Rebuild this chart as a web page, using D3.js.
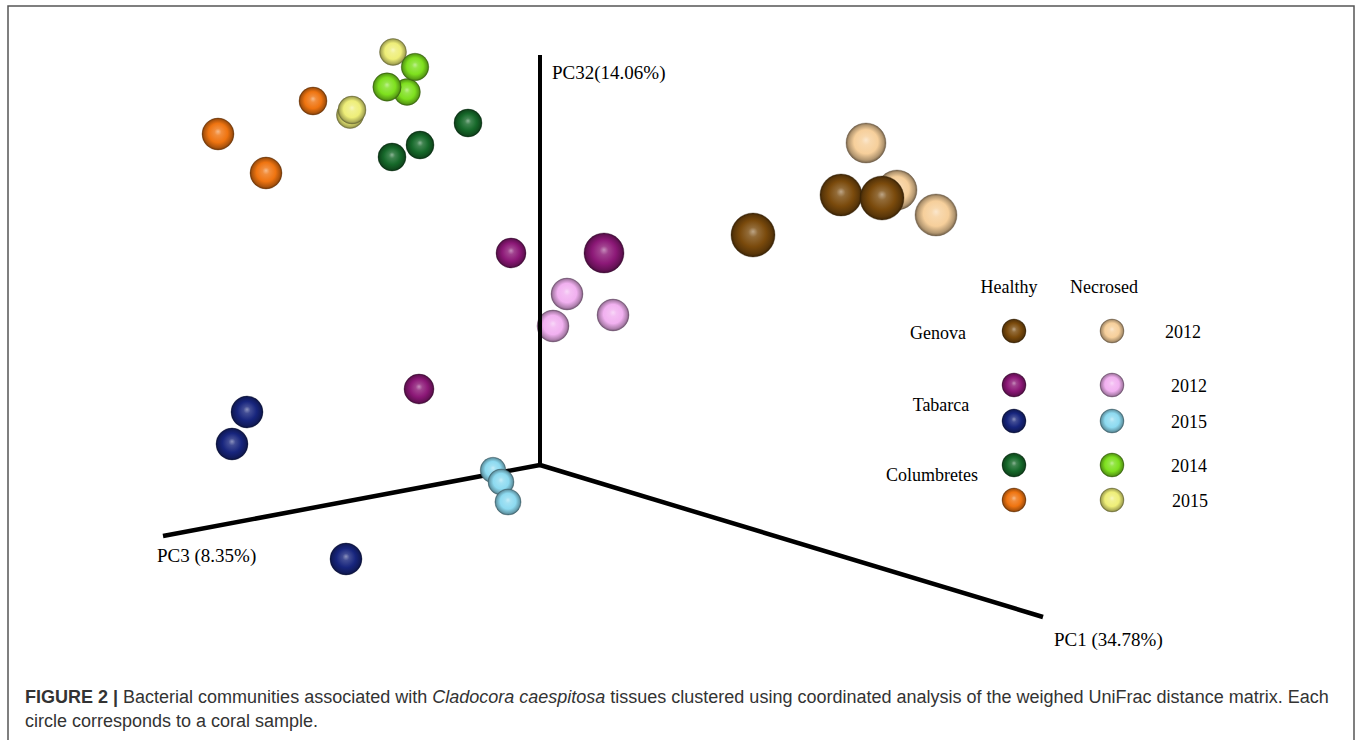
<!DOCTYPE html>
<html>
<head>
<meta charset="utf-8">
<script src="https://cdn.jsdelivr.net/npm/d3@7"></script>
<style>
  html, body { margin: 0; padding: 0; background: #fff; }
  svg { display: block; }
</style>
</head>
<body>
<svg id="chart" width="1360" height="740"></svg>
<script>
// Axis titles (variance explained by each principal coordinate)
const axisTitles = { vertical: "PC32(14.06%)", left: "PC3 (8.35%)", right: "PC1 (34.78%)" };

// Projected axis end points (ordination units, origin = 0,0)
const axisEnds = { vertical: [0, 41.0], left: [-37.7, -7.1], right: [50.3, -15.2] };

// Legend structure
const sites = ["Genova", "Tabarca", "Tabarca", "Columbretes", "Columbretes"];
const years = ["2012", "2012", "2015", "2014", "2015"];
const states = ["Healthy", "Necrosed"];
const healthyColors  = ["#7a4a0c", "#8c1877", "#17257d", "#16692a", "#ef7410"];
const necrosedColors = ["#f6cf9b", "#f1b0f0", "#8ddaf0", "#7ee01e", "#eeee78"];

// Samples per group: [projected x, projected y, depth]
const genovaHealthy2012      = [[30.1, 27.0, 9], [34.2, 26.7, 10], [21.3, 23.0, 10]];
const genovaNecrosed2012     = [[32.6, 32.2, 8], [35.7, 27.5, 8], [39.6, 25.0, 9]];
const tabarcaHealthy2012     = [[-2.9, 21.2, 3], [6.4, 21.2, 8], [-12.1, 7.6, 3]];
const tabarcaNecrosed2012    = [[2.7, 17.1, 4], [7.3, 15.0, 4], [1.3, 13.9, 4]];
const tabarcaHealthy2015     = [[-29.3, 5.3, 4], [-30.8, 2.1, 4], [-19.4, -9.4, 4]];
const tabarcaNecrosed2015    = [[-4.7, -0.5, 0.8], [-3.9, -1.7, 1.0], [-3.2, -3.7, 1.1]];
const columbretesHealthy2014 = [[-7.2, 34.2, 2], [-12.0, 32.0, 2], [-14.8, 30.8, 2]];
const columbretesNecrosed2014= [[-12.5, 39.8, 1.8], [-15.3, 37.8, 2.2], [-13.3, 37.3, 1.4]];
const columbretesHealthy2015 = [[-22.7, 36.4, 2], [-32.2, 33.1, 4], [-27.4, 29.2, 4]];
const columbretesNecrosed2015= [[-14.7, 41.3, 1.5], [-18.8, 35.5, 2], [-19.0, 35.0, 1.6]];

const groups = [
  { samples: genovaHealthy2012,       color: healthyColors[0] },
  { samples: genovaNecrosed2012,      color: necrosedColors[0] },
  { samples: tabarcaHealthy2012,      color: healthyColors[1] },
  { samples: tabarcaNecrosed2012,     color: necrosedColors[1] },
  { samples: tabarcaHealthy2015,      color: healthyColors[2] },
  { samples: tabarcaNecrosed2015,     color: necrosedColors[2] },
  { samples: columbretesHealthy2014,  color: healthyColors[3] },
  { samples: columbretesNecrosed2014, color: necrosedColors[3] },
  { samples: columbretesHealthy2015,  color: healthyColors[4] },
  { samples: columbretesNecrosed2015, color: necrosedColors[4] }
];

const svg = d3.select("#chart");

// Scales: projected ordination space -> page, depth -> sphere radius
const x = d3.scaleLinear().domain([0, 10]).range([540, 640]);
const y = d3.scaleLinear().domain([0, 10]).range([465, 365]);
const r = d3.scaleLinear().domain([0, 10]).range([12, 22]);

// Shaded sphere gradients, one per colour
const defs = svg.append("defs");
const allColors = healthyColors.concat(necrosedColors);
const gid = c => "sph" + c.replace("#", "");
allColors.forEach(c => {
  const g = defs.append("radialGradient").attr("id", gid(c))
    .attr("cx", "50%").attr("cy", "50%").attr("r", "50%")
    .attr("fx", "50%").attr("fy", "42%");
  const base = d3.color(c);
  g.append("stop").attr("offset", "0%").attr("stop-color", d3.interpolateRgb(c, "#fff")(0.5));
  g.append("stop").attr("offset", "22%").attr("stop-color", d3.interpolateRgb(c, "#fff")(0.18));
  g.append("stop").attr("offset", "60%").attr("stop-color", c);
  g.append("stop").attr("offset", "88%").attr("stop-color", base.darker(0.9).formatHex());
  g.append("stop").attr("offset", "100%").attr("stop-color", base.darker(2.2).formatHex());
});

// Figure frame
svg.append("path")
  .attr("d", "M8,745V6H1354V745")
  .attr("fill", "none").attr("stroke", "#555").attr("stroke-width", 1.5);

const axisG = svg.append("g");
function drawAxis(key, width) {
  axisG.append("line")
    .attr("x1", x(0)).attr("y1", y(0))
    .attr("x2", x(axisEnds[key][0])).attr("y2", y(axisEnds[key][1]))
    .attr("stroke", "#000").attr("stroke-width", width).attr("stroke-linecap", "butt");
}
drawAxis("left", 4.5);
drawAxis("right", 4.5);

// Spheres, back to front
const pts = [];
groups.forEach(g => g.samples.forEach(s => pts.push({ px: s[0], py: s[1], d: s[2], color: g.color })));
pts.sort((a, b) => a.d - b.d);

function sphere(sel) {
  sel.attr("r", d => r(d.d))
    .attr("fill", d => `url(#${gid(d.color)})`)
    .attr("stroke", d => d3.color(d.color).darker(2.5).formatHex())
    .attr("stroke-opacity", 0.45)
    .attr("stroke-width", 0.8);
}
svg.append("g").selectAll("circle").data(pts).join("circle")
  .attr("cx", d => x(d.px)).attr("cy", d => y(d.py)).call(sphere);

// Vertical axis on top
const vg = svg.append("g");
vg.append("line")
  .attr("x1", x(0)).attr("y1", y(0)).attr("x2", x(axisEnds.vertical[0])).attr("y2", y(axisEnds.vertical[1]))
  .attr("stroke", "#000").attr("stroke-width", 4);

// Axis titles
const serif = "'Liberation Serif', 'Times New Roman', serif";
const titleG = svg.append("g").attr("font-family", serif).attr("font-size", 19).attr("fill", "#000");
titleG.append("text").attr("x", 552).attr("y", 79).text(axisTitles.vertical);
titleG.append("text").attr("x", 157).attr("y", 562).text(axisTitles.left);
titleG.append("text").attr("x", 1054).attr("y", 646).text(axisTitles.right);

// Legend
const lg = svg.append("g").attr("font-family", serif).attr("font-size", 18).attr("fill", "#000");
const colX = [1014, 1112];
const headX = [1009, 1104];
const rowY = [331, 385, 421, 465, 500];
states.forEach((s, i) => lg.append("text").attr("x", headX[i]).attr("y", 293)
  .attr("text-anchor", "middle").text(s));
const siteLabels = [
  { name: "Genova", y: 339, x: 938 },
  { name: "Tabarca", y: 411, x: 941 },
  { name: "Columbretes", y: 481, x: 932 }
];
siteLabels.forEach(s => lg.append("text").attr("x", s.x).attr("y", s.y).attr("text-anchor", "middle").text(s.name));
const yearX = [1165, 1171, 1171, 1171, 1172];
years.forEach((yr, i) => lg.append("text").attr("x", yearX[i]).attr("y", rowY[i] + 7).text(yr));
const legendPts = [];
rowY.forEach((ry, i) => {
  legendPts.push({ cx: colX[0], cy: ry, color: healthyColors[i] });
  legendPts.push({ cx: colX[1], cy: ry, color: necrosedColors[i] });
});
lg.append("g").selectAll("circle").data(legendPts).join("circle")
  .attr("cx", d => d.cx).attr("cy", d => d.cy)
  .attr("r", 12)
  .attr("fill", d => `url(#${gid(d.color)})`)
  .attr("stroke", d => d3.color(d.color).darker(2.5).formatHex())
  .attr("stroke-opacity", 0.45).attr("stroke-width", 0.8);

// Caption
const cap = svg.append("g").attr("font-family", "'Liberation Sans', Arial, sans-serif")
  .attr("font-size", 18).attr("fill", "#333");
const l1 = cap.append("text").attr("x", 25).attr("y", 703);
l1.append("tspan").attr("font-weight", "bold").text("FIGURE 2 | ");
l1.append("tspan").text("Bacterial communities associated with ");
l1.append("tspan").attr("font-style", "italic").text("Cladocora caespitosa");
l1.append("tspan").text(" tissues clustered using coordinated analysis of the weighed UniFrac distance matrix. Each");
cap.append("text").attr("x", 25).attr("y", 727).text("circle corresponds to a coral sample.");
</script>
</body>
</html>
